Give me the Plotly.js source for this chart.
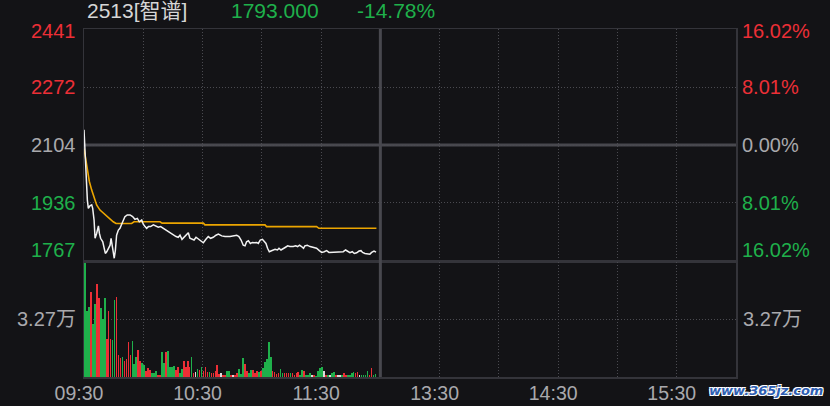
<!DOCTYPE html>
<html><head><meta charset="utf-8">
<script src="https://cdn.plot.ly/plotly-3.0.1.min.js"></script>
<style>html,body{margin:0;padding:0;background:#131316;}#chart{width:830px;height:406px;}</style>
</head><body><div id="chart"></div>
<script>
// ---- data ----
const stockName = '2513[智谱]';
const lastPrice = '1793.000';
const changePct = '-14.78%';
const prevClose = 2104;
const priceTicks = [2441, 2272, 2104, 1936, 1767];
const pctLabels = ['16.02%', '8.01%', '0.00%', '8.01%', '16.02%'];
const volTicks = [3.27, 6.54];
const volLabel = '3.27万';
const gridMinutes = [0, 30, 60, 90, 120, 150, 180, 210, 240, 270, 300, 330];
const timeLabels = ['09:30', '', '10:30', '', '11:30', '', '13:30', '', '14:30', '', '15:30', ''];
const lunchBreakMinute = 150;

const priceMinutes = [0, 1.0, 1.7, 2.2, 3.0, 3.9, 4.4, 5.1, 5.6, 6.4, 7.3, 7.8, 8.4, 9.5, 10.1, 10.8, 11.5, 12.3, 13.2, 13.7, 14.2, 14.8, 15.3, 15.9, 16.5, 17.4, 18.2, 19.6, 20.7, 21.9, 23.3, 24.6, 25.8, 27.0, 28.0, 29.2, 30.0, 30.9, 31.7, 32.6, 33.7, 35.1, 36.4, 37.6, 38.8, 40.1, 41.5, 42.7, 43.9, 45.2, 46.6, 47.7, 48.6, 49.6, 50.6, 51.6, 52.8, 53.6, 54.7, 55.7, 56.7, 57.9, 59.0, 60.4, 61.7, 62.9, 64.1, 65.4, 66.8, 68.0, 69.7, 71.4, 73.9, 75.6, 77.3, 78.4, 79.5, 80.6, 81.5, 82.3, 83.2, 84.2, 85.2, 86.2, 87.4, 88.2, 89.2, 90.3, 91.3, 92.1, 92.9, 93.8, 94.6, 95.8, 96.7, 97.9, 98.7, 99.7, 100.9, 102.0, 103.1, 104.2, 105.9, 107.1, 108.1, 109.1, 110.1, 111.1, 111.8, 113.0, 114.4, 116.0, 117.7, 119.1, 120.3, 121.6, 122.8, 124.0, 125.3, 127.0, 128.7, 130.0, 131.2, 132.4, 133.4, 134.6, 135.8, 136.8, 138.0, 139.2, 140.2, 141.0, 142.2, 143.6, 144.7, 145.6, 146.8, 147.8];
const prices = [2148, 2012, 1944, 1920, 1927, 1930, 1920, 1886, 1833, 1847, 1869, 1847, 1833, 1823, 1809, 1789, 1794, 1804, 1813, 1833, 1818, 1789, 1775, 1799, 1842, 1857, 1862, 1881, 1896, 1901, 1901, 1896, 1888, 1891, 1881, 1886, 1874, 1867, 1862, 1867, 1867, 1872, 1867, 1865, 1867, 1862, 1857, 1852, 1849, 1842, 1838, 1836, 1842, 1830, 1836, 1842, 1849, 1833, 1830, 1828, 1836, 1830, 1826, 1820, 1830, 1838, 1833, 1836, 1842, 1845, 1840, 1838, 1838, 1841, 1842, 1838, 1828, 1813, 1811, 1823, 1826, 1818, 1821, 1820, 1821, 1818, 1828, 1830, 1823, 1818, 1804, 1794, 1796, 1799, 1801, 1799, 1804, 1799, 1802, 1807, 1811, 1809, 1809, 1811, 1809, 1813, 1809, 1804, 1811, 1813, 1809, 1807, 1804, 1797, 1792, 1794, 1797, 1792, 1792, 1794, 1792, 1794, 1794, 1799, 1796, 1791, 1794, 1789, 1791, 1796, 1797, 1792, 1789, 1789, 1787, 1792, 1796, 1793];

const avgMinutes = [0, 1.0, 1.7, 2.7, 3.9, 5.1, 6.4, 8.1, 9.8, 11.5, 13.2, 14.8, 16.2, 24.1, 25.3, 38.5, 39.5, 60.4, 61.2, 91.6, 92.4, 117.7, 118.9, 148];
const avgPrices = [2094, 2060, 2027, 1998, 1973, 1949, 1930, 1915, 1906, 1898, 1891, 1881, 1876, 1876, 1881, 1881, 1877, 1877, 1872, 1872, 1867, 1867, 1862, 1862];

// volume per minute, in 万 shares
const volumes = [6.50,3.78,3.97,4.85,3.00,4.16,5.27,4.48,3.91,3.29,4.51,2.15,3.78,2.17,2.10,4.36,4.55,1.25,1.08,1.13,0.93,1.04,1.98,1.23,2.02,0.74,1.15,1.55,0.89,0.77,0.66,0.36,0.51,0.40,0.23,0.23,0.32,0.13,0.09,1.40,0.79,1.40,1.45,0.55,0.59,0.62,0.42,0.59,0.23,0.45,0.89,
 0.59,0.93,0.59,1.13,0.23,0.28,0.45,0.42,0.59,0.32,0.55,0.28,0.28,0.23,0.23,0.32,0.66,0.17,0.21,0.13,0.13,0.32,0.36,0.13,0.13,0.09,0.23,0.47,0.17,1.08,0.74,0.32,0.23,0.42,0.42,0.23,0.32,0.28,0.36,0.51,0.85,1.05,1.98,1.15,0.32,0.28,0.17,0.23,
 0.45,0.23,0.23,0.23,0.23,0.23,0.23,0.13,0.23,0.28,0.13,0.40,0.32,0.13,0.09,0.21,0.13,0.13,0.04,0.32,0.51,0.59,0.32,0.13,0.09,0.13,0.23,0.28,0.13,0.13,0.13,0.09,0.23,0.13,0.09,0.13,0.23,0.28,0.23,0.28,0.09,0.09,0.09,0.09,0.36,0.13,0.51,0.13,0.17];
// direction of each minute: g = down, r = up, w = unchanged
const volDirs = 'gggrggrrgggrrrggrrrgrrrrgggrrggrrrgggrrggrggggrrggr' +
                'rrrgrwgrgrrrgrrrrrwrrggrwrrgggrrggrrrgrgggggrrrr' +
                'ggrrrgrrrrggrgggwrggggwrgwggrwwgrrggggrrwggggrrgg';

// ---- styles ----
const RED = '#ec2f36', GREEN = '#1fb04b', GRAY = '#a9a9ad', WHITE = '#dcdcdc';
const FONT = '"Liberation Sans", "Noto Sans CJK SC", Arial, sans-serif';
const gridColor = '#4a4a50', borderColor = '#34343a';
const dirColor = {g: GREEN, r: RED, w: WHITE};

const volX = volumes.map((v, i) => i);
const volColors = volumes.map((v, i) => dirColor[volDirs[i]] || GREEN);

const traces = [
  {x: avgMinutes, y: avgPrices, type: 'scatter', mode: 'lines', line: {color: '#eba500', width: 1.6}, xaxis: 'x', yaxis: 'y', hoverinfo: 'skip'},
  {x: priceMinutes, y: prices, type: 'scatter', mode: 'lines', line: {color: '#f2f2f2', width: 1.5}, xaxis: 'x', yaxis: 'y', hoverinfo: 'skip'},
  {x: volX, y: volumes, type: 'bar', marker: {color: volColors, line: {width: 0}}, width: 0.85, offset: 0.05, xaxis: 'x2', yaxis: 'y2', hoverinfo: 'skip'}
];

function tickColor(v) { return v > prevClose ? RED : (v < prevClose ? GREEN : GRAY); }

const annotations = [];
priceTicks.forEach((v, i) => {
  const shift = i === 0 ? -2 : (i === priceTicks.length - 1 ? 11 : 0);
  annotations.push({xref: 'paper', x: 0, xanchor: 'right', xshift: -6, yref: 'y', y: v, yanchor: 'middle', yshift: shift,
    text: String(v), showarrow: false, font: {family: FONT, size: 20, color: tickColor(v)}});
  annotations.push({xref: 'paper', x: 1, xanchor: 'left', xshift: 4, yref: 'y', y: v, yanchor: 'middle', yshift: shift,
    text: pctLabels[i], showarrow: false, font: {family: FONT, size: 20, color: tickColor(v)}});
});
annotations.push({xref: 'paper', x: 0, xanchor: 'right', xshift: -6, yref: 'y2', y: volTicks[0], yanchor: 'middle',
  text: volLabel, showarrow: false, font: {family: FONT, size: 20, color: GRAY}});
annotations.push({xref: 'paper', x: 1, xanchor: 'left', xshift: 5, yref: 'y2', y: volTicks[0], yanchor: 'middle',
  text: volLabel, showarrow: false, font: {family: FONT, size: 20, color: GRAY}});
// header
annotations.push({xref: 'paper', x: 0, xanchor: 'left', xshift: 1, yref: 'paper', y: 1.053, yanchor: 'middle',
  text: stockName, showarrow: false, font: {family: FONT, size: 21, color: '#d6d6d6'}});
annotations.push({xref: 'paper', x: 0.2225, xanchor: 'left', yref: 'paper', y: 1.053, yanchor: 'middle',
  text: lastPrice, showarrow: false, font: {family: FONT, size: 21, color: GREEN}});
annotations.push({xref: 'paper', x: 0.4155, xanchor: 'left', yref: 'paper', y: 1.053, yanchor: 'middle',
  text: changePct, showarrow: false, font: {family: FONT, size: 21, color: GREEN}});
// watermark
annotations.push({xref: 'paper', x: 1.136, xanchor: 'right', yref: 'paper', y: -0.012, yanchor: 'top',
  text: '<b><i>www.365jz.com</i></b>', showarrow: false,
  font: {family: '"DejaVu Sans", sans-serif', size: 13, color: '#2f5fb3', shadow: '1px 1px 0 #fff, -1px -1px 0 #fff, 1px -1px 0 #fff, -1px 1px 0 #fff'}});

const xCommon = {range: [0, 330], tickmode: 'array', tickvals: gridMinutes, ticktext: timeLabels,
  showgrid: true, gridcolor: gridColor, griddash: '1px,2px', gridwidth: 1, zeroline: false,
  showline: true, linecolor: borderColor, linewidth: 1.5, mirror: true, ticks: '', fixedrange: true};

const layout = {
  width: 830, height: 406,
  margin: {l: 84, r: 94, t: 29, b: 29},
  paper_bgcolor: '#131316', plot_bgcolor: '#131316',
  showlegend: false, bargap: 0,
  xaxis: Object.assign({}, xCommon, {anchor: 'y', showticklabels: false}),
  xaxis2: Object.assign({}, xCommon, {anchor: 'y2', matches: 'x', showticklabels: true,
    tickfont: {family: FONT, size: 19.5, color: GRAY}, ticklabelshift: -5, ticklabelstandoff: -2}),
  yaxis: {domain: [0.3333, 1], range: [priceTicks[4], priceTicks[0]], tickmode: 'array', tickvals: priceTicks,
    showticklabels: false, showgrid: true, gridcolor: gridColor, griddash: '1px,2px', zeroline: false,
    showline: true, linecolor: borderColor, linewidth: 1.5, mirror: true, ticks: '', fixedrange: true},
  yaxis2: {domain: [0, 0.3305], range: [0, volTicks[1]], tickmode: 'array', tickvals: volTicks,
    showticklabels: false, showgrid: true, gridcolor: gridColor, griddash: '1px,2px', zeroline: false,
    showline: true, linecolor: borderColor, linewidth: 1.5, mirror: true, ticks: '', fixedrange: true},
  shapes: [
    {type: 'line', xref: 'x', yref: 'paper', x0: lunchBreakMinute, x1: lunchBreakMinute, y0: 0, y1: 1,
      line: {color: '#48484e', width: 3}, layer: 'above'},
    {type: 'line', xref: 'paper', yref: 'y', x0: 0, x1: 1, y0: prevClose, y1: prevClose,
      line: {color: '#48484e', width: 3}, layer: 'below'}
  ],
  annotations: annotations
};

Plotly.newPlot('chart', traces, layout, {displayModeBar: false, staticPlot: true});
</script>
</body></html>
